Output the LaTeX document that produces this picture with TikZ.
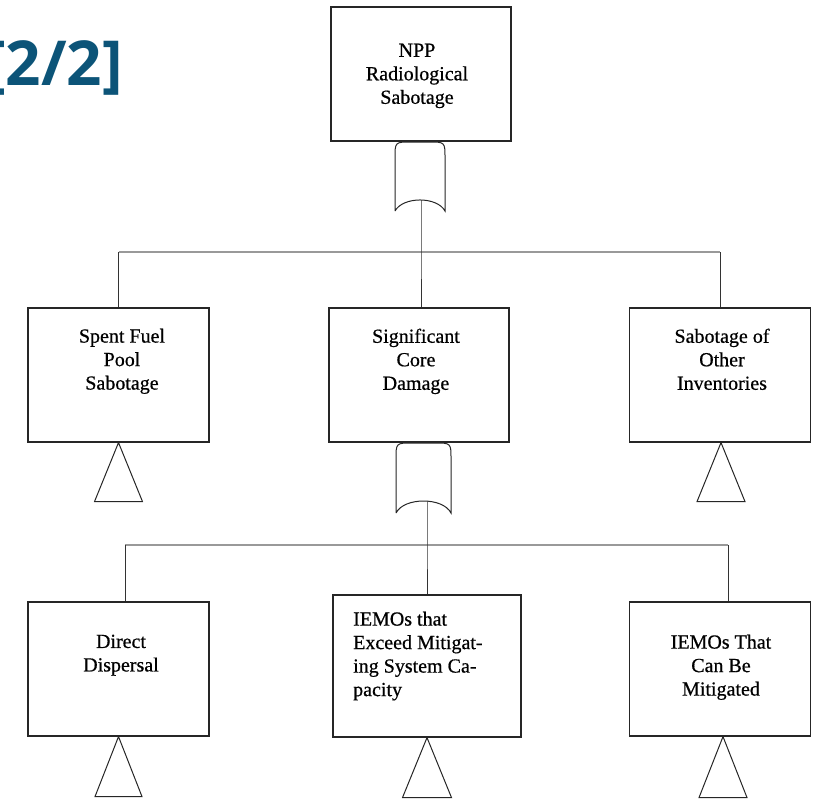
\documentclass[tikz,border=0pt]{standalone}
\usepackage{fontspec}
\setmainfont{Liberation Serif}
\newfontfamily\boxfont[FakeBold=0.6]{Liberation Serif}
\newfontfamily\titlefont{Open Sans}
\definecolor{titleblue}{HTML}{0C5478}
\begin{document}
\begin{tikzpicture}[x=1pt,y=-1pt,
  box/.style={draw=black!85,line width=1.2pt,inner sep=0pt},
  lbl/.style={inner sep=0pt,font=\boxfont\fontsize{20}{23.5}\selectfont,align=center,anchor=north},
  bus/.style={draw=black!40,line width=1.5pt},
  drop/.style={draw=black!80,line width=1pt},
  gate/.style={draw=black!85,line width=1pt,fill=white},
  tri/.style={draw=black!85,line width=1pt}]
\useasboundingbox (0,0) rectangle (813,800);
\clip (0,0) rectangle (813,800);

% page heading
\node[font=\titlefont\bfseries\fontsize{62}{62}\selectfont,text=titleblue,
      anchor=base east,inner sep=0pt] (title) at (123,85) {[2/2]};

% event boxes
\node[box,minimum width=180pt,minimum height=134pt] (top) at (421,74) {};
\node[box,minimum width=181pt,minimum height=134pt] (sfp) at (118.5,375) {};
\node[box,minimum width=180pt,minimum height=134pt] (scd) at (419,375) {};
\node[box,minimum width=181pt,minimum height=134pt] (soi) at (720,375) {};
\node[box,minimum width=181pt,minimum height=134pt] (dd)  at (118.5,669) {};
\node[box,minimum width=188pt,minimum height=142pt] (iex) at (427,666) {};
\node[box,minimum width=181pt,minimum height=134pt] (icm) at (720,669) {};

% box texts
\node[lbl] (top-t) at (417,43.5) {NPP\\Radiological\\Sabotage};
\node[lbl] (sfp-t) at (122,328.5) {Spent Fuel\\Pool\\Sabotage};
\node[lbl] (scd-t) at (416,328.5) {Significant\\Core\\Damage};
\node[lbl] (soi-t) at (722,328.5) {Sabotage of\\Other\\Inventories};
\node[lbl] (dd-t)  at (121,634.5) {Direct\\Dispersal};
\node[lbl,anchor=north west,align=left] (iex-t) at (353,611.5)
  {IEMOs that\\Exceed Mitigat-\\ing System Ca-\\pacity};
\node[lbl] (icm-t) at (721,634.5) {IEMOs That\\Can Be\\Mitigated};

% OR gate under the top event
\draw[gate] (395,211) -- (395,158) .. controls (395,142) .. (411,142)
  -- (429,142) .. controls (445,142) .. (445,158) -- (445,211)
  .. controls (437,196.3) and (403,196.3) .. (395,211);
% OR gate under significant core damage
\draw[gate] (396,513) -- (396,459) .. controls (396,443) .. (412,443)
  -- (435,443) .. controls (451,443) .. (451,459) -- (451,513)
  .. controls (443,497) and (404,497) .. (396,513);

% first level connectors
\coordinate (g1) at (421,200);
\coordinate (b1) at (421,252);
\draw[bus] (sfp.north |- b1) -- (soi.north |- b1);
\draw[drop] (g1) -- (b1) -- (b1 |- scd.north);
\draw[drop] (sfp.north |- b1) -- (sfp.north);
\draw[drop] (soi.north |- b1) -- (soi.north);

% second level connectors
\coordinate (g2) at (427,501);
\coordinate (b2) at (427,545);
\coordinate (b2l) at (125,545);
\coordinate (b2r) at (728,545);
\draw[bus] (b2l) -- (b2r);
\draw[drop] (g2) -- (b2) -- (iex.north);
\draw[drop] (b2l) -- (b2l |- dd.north);
\draw[drop] (b2r) -- (b2r |- icm.north);

% transfer triangles
\draw[tri] (sfp.south) -- ++(-24,59) -- ++(48,0) -- cycle;
\draw[tri] ([xshift=1pt]soi.south) -- ++(-24,59) -- ++(48,0) -- cycle;
\draw[tri] (dd.south) -- ++(-23.5,60) -- ++(47,0) -- cycle;
\draw[tri] (iex.south) -- ++(-24.5,60) -- ++(49,0) -- cycle;
\draw[tri] ([xshift=3pt]icm.south) -- ++(-24,61) -- ++(48,0) -- cycle;
\end{tikzpicture}
\end{document}
